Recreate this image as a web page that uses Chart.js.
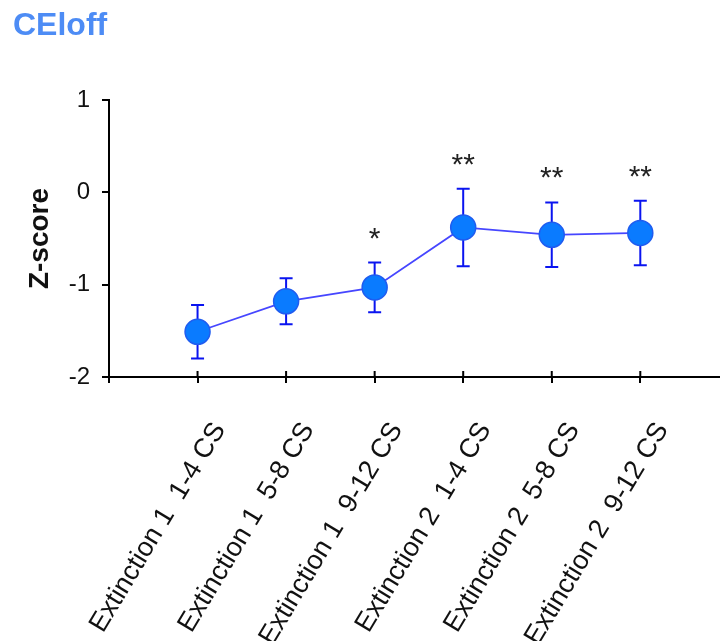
<!DOCTYPE html>
<html>
<head>
<meta charset="utf-8">
<script src="https://cdn.jsdelivr.net/npm/chart.js@4/dist/chart.umd.min.js"></script>
<style>
  html, body { margin: 0; padding: 0; background: #fff; overflow: hidden; }
  #wrap { width: 720px; height: 641px; position: relative; }
</style>
</head>
<body>
<div id="wrap"><canvas id="c" width="720" height="641"></canvas></div>
<script>
// Trial blocks along the x axis
const categories = [
  'Extinction 1  1-4 CS',
  'Extinction 1  5-8 CS',
  'Extinction 1  9-12 CS',
  'Extinction 2  1-4 CS',
  'Extinction 2  5-8 CS',
  'Extinction 2  9-12 CS'
];
// Mean Z-score per block and its error (SEM)
const zMeans = [-1.51, -1.18, -1.03, -0.38, -0.46, -0.44];
const zSem   = [0.29, 0.25, 0.27, 0.42, 0.35, 0.35];
// Significance markers per block
const significance = ['', '', '*', '**', '**', '**'];
// Y axis tick values
const yTicks = [-2, -1, 0, 1];

const FONT = '"Liberation Sans", Arial, Helvetica, sans-serif';
const BLUE_FILL = '#0a7bff';
const BLUE_BAR = '#0a14f0';

const points = zMeans.map((v, i) => ({ x: i + 1, y: v }));

const errorBars = {
  id: 'errorBars',
  beforeDatasetsDraw(chart) {
    const { ctx, scales: { x, y } } = chart;
    ctx.save();
    ctx.strokeStyle = BLUE_BAR;
    ctx.lineWidth = 2;
    zMeans.forEach((m, i) => {
      const px = x.getPixelForValue(i + 1);
      const top = y.getPixelForValue(m + zSem[i]);
      const bot = y.getPixelForValue(m - zSem[i]);
      ctx.beginPath();
      ctx.moveTo(px, top); ctx.lineTo(px, bot);
      ctx.moveTo(px - 6.5, top); ctx.lineTo(px + 6.5, top);
      ctx.moveTo(px - 6.5, bot); ctx.lineTo(px + 6.5, bot);
      ctx.stroke();
    });
    // x tick marks cross the axis: short upward part above the baseline
    ctx.strokeStyle = '#000';
    ctx.beginPath();
    x.ticks.forEach(t => {
      const px = x.getPixelForValue(t.value);
      ctx.moveTo(px, chart.chartArea.bottom);
      ctx.lineTo(px, chart.chartArea.bottom - 6);
    });
    ctx.stroke();
    ctx.restore();
  },
  afterDatasetsDraw(chart) {
    const { ctx, scales: { x, y } } = chart;
    ctx.save();
    ctx.fillStyle = '#222';
    ctx.font = '30px ' + FONT;
    ctx.textAlign = 'center';
    ctx.textBaseline = 'alphabetic';
    significance.forEach((s, i) => {
      if (!s) return;
      const px = x.getPixelForValue(i + 1);
      const top = y.getPixelForValue(zMeans[i] + zSem[i]);
      ctx.fillText(s, px, top - 32 + 17);
    });
    ctx.restore();
  }
};

const panelTitle = {
  id: 'panelTitle',
  afterDraw(chart) {
    const { ctx } = chart;
    ctx.save();
    ctx.fillStyle = '#4d8cf5';
    ctx.font = 'bold 32px ' + FONT;
    ctx.textAlign = 'left';
    ctx.textBaseline = 'alphabetic';
    ctx.fillText('CEloff', 13, 35);
    ctx.restore();
  }
};

new Chart(document.getElementById('c'), {
  type: 'line',
  data: {
    datasets: [{
      data: points,
      borderColor: '#4646ff',
      borderWidth: 1.8,
      pointRadius: 12.5,
      pointHoverRadius: 12.5,
      pointBackgroundColor: BLUE_FILL,
      pointBorderColor: '#1f5cf0',
      pointBorderWidth: 1.5,
      tension: 0,
      fill: false
    }]
  },
  options: {
    responsive: false,
    animation: false,
    events: [],
    layout: { autoPadding: false, padding: { top: 100, left: 0, right: 0, bottom: 0 } },
    plugins: { legend: { display: false }, tooltip: { enabled: false }, title: { display: false } },
    scales: {
      x: {
        type: 'linear',
        min: 0,
        max: 6.9,
        afterFit(scale) {
          scale.height = 641 - 377;
          scale.paddingLeft = 0;
          scale.paddingRight = 0;
        },
        afterBuildTicks(scale) { scale.ticks = [0, 1, 2, 3, 4, 5, 6].map(v => ({ value: v })); },
        border: { display: true, color: '#000', width: 2 },
        grid: { display: true, drawOnChartArea: false, drawTicks: true, tickLength: 6, color: '#000', lineWidth: 2 },
        ticks: {
          autoSkip: false,
          minRotation: 59,
          maxRotation: 59,
          padding: 34,
          labelOffset: 22,
          color: '#111',
          font: { family: FONT, size: 27 },
          callback: (v) => (v >= 1 && v <= categories.length ? categories[v - 1] : '')
        }
      },
      y: {
        min: -2,
        max: 1,
        afterFit(scale) { scale.width = 109; },
        afterBuildTicks(scale) { scale.ticks = yTicks.map(v => ({ value: v })); },
        border: { display: true, color: '#000', width: 2 },
        grid: { display: true, drawOnChartArea: false, drawTicks: true, tickLength: 7, color: '#000', lineWidth: 2 },
        ticks: {
          padding: 12,
          color: '#111',
          font: { family: FONT, size: 24 }
        },
        title: {
          display: true,
          text: 'Z-score',
          color: '#111',
          font: { family: FONT, size: 28, weight: 'bold' },
          padding: { top: 23, bottom: 0 }
        }
      }
    }
  },
  plugins: [errorBars, panelTitle]
});
</script>
</body>
</html>
